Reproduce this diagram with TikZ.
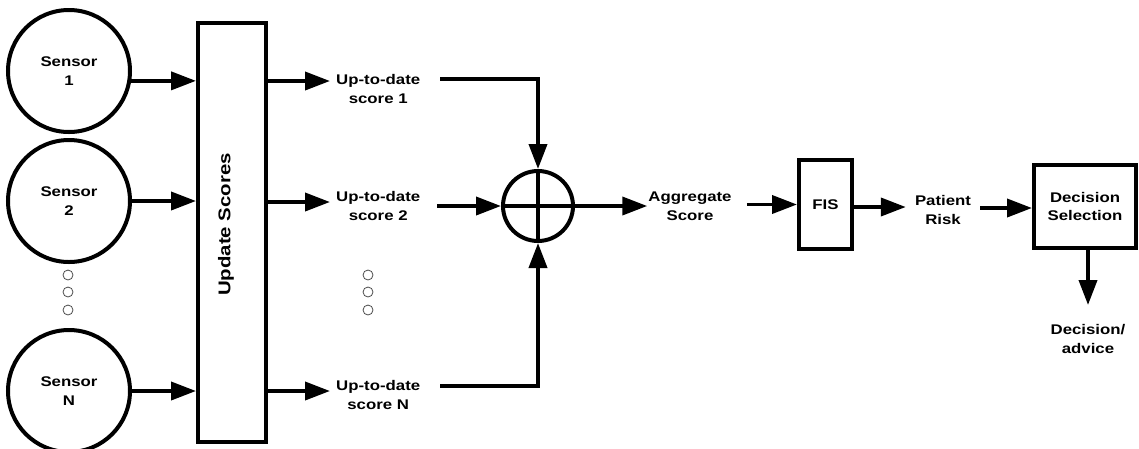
\documentclass[tikz,border=0pt]{standalone}
\usepackage{fontspec}
\setmainfont{Liberation Sans}[FakeStretch=1.2]
\usetikzlibrary{arrows.meta}
\begin{document}
\begin{tikzpicture}[x=1pt,y=-1pt,
  lbl/.style={font=\fontsize{14}{18.5}\selectfont\bfseries, align=center, inner sep=1pt},
  blk/.style={draw, line width=4pt, inner sep=0pt},
  sensor/.style={circle, draw, line width=4pt, minimum size=122pt, inner sep=0pt,
    font=\fontsize{14}{18.5}\selectfont\bfseries, align=center},
  arr/.style={line width=3.8pt, -{Triangle[length=25pt,width=18pt]}},
  dot/.style={draw=black!70, line width=0.8pt}]
\useasboundingbox (0,0) rectangle (1139,448);

% sensors
\node[sensor] (s1) at (69,71) {Sensor\\1};
\node[sensor] (s2) at (69,201) {Sensor\\2};
\node[sensor] (sN) at (69,391) {Sensor\\N};
\foreach \yy in {275,292,310} \draw[dot] (68,\yy) circle[radius=5pt];

% update scores
\node[blk, minimum width=68pt, minimum height=419pt] (us) at (232,232.5) {};
\node[rotate=90, font=\fontsize{17}{20}\selectfont\bfseries] (ust) at (226,224.5) {Update Scores};

\draw[arr] (s1.-9.4) -- (s1.-9.4 -| us.west);
\draw[arr] (s2.east) -- (s2.east -| us.west);
\draw[arr] (sN.east) -- (sN.east -| us.west);

% scores
\node[lbl, anchor=west] (sc1) at (335,89) {Up-to-date\\score 1};
\node[lbl, anchor=west] (sc2) at (335,206) {Up-to-date\\score 2};
\node[lbl, anchor=west] (scN) at (335,395) {Up-to-date\\score N};
\foreach \yy in {275,292,310} \draw[dot] (368,\yy) circle[radius=5pt];

\coordinate (t1) at (330,81);
\coordinate (t2) at (330,202);
\coordinate (tN) at (330,391);
\draw[arr] (us.east |- t1) -- (t1);
\draw[arr] (us.east |- t2) -- (t2);
\draw[arr] (us.east |- tN) -- (tN);

% sum
\node[circle, draw, line width=4pt, minimum size=70pt, inner sep=0pt] (sum) at (538,206) {};
\draw[line width=3.2pt] (sum.north) -- (sum.south) (sum.west) -- (sum.east);

\coordinate (o1) at (440,79);
\coordinate (o2) at (437,206);
\coordinate (oN) at (440,386);
\draw[arr] (o1) -| (sum.north);
\draw[arr] (o2) -- (sum.west);
\draw[arr] (oN) -| (sum.south);

% aggregate
\node[lbl] (agg) at (690,206) {Aggregate\\Score};
\draw[arr] (sum.east) -- (agg.west);

\node[blk, minimum width=53pt, minimum height=89pt, font=\fontsize{14}{18.5}\selectfont\bfseries] (fis) at (825.5,204.5) {FIS};
\draw[arr] ([xshift=14pt]agg.east |- fis.west) -- (fis.west);

\node[lbl, inner xsep=9pt] (pr) at (943,210) {Patient\\Risk};
\draw[arr] (fis.east |- 0,207) -- (pr.west |- 0,207);

\node[blk, minimum width=102pt, minimum height=83pt, align=center,
  font=\fontsize{14}{18.5}\selectfont\bfseries] (ds) at (1085,206.5) {Decision\\Selection};
\draw[arr] (pr.east |- 0,208) -- (ds.west |- 0,208);

\node[lbl] (adv) at (1088,339) {Decision/\\advice};
\draw[arr] ([xshift=3pt]ds.south) -- ([xshift=3pt]ds.south |- 0,305);
\end{tikzpicture}
\end{document}
